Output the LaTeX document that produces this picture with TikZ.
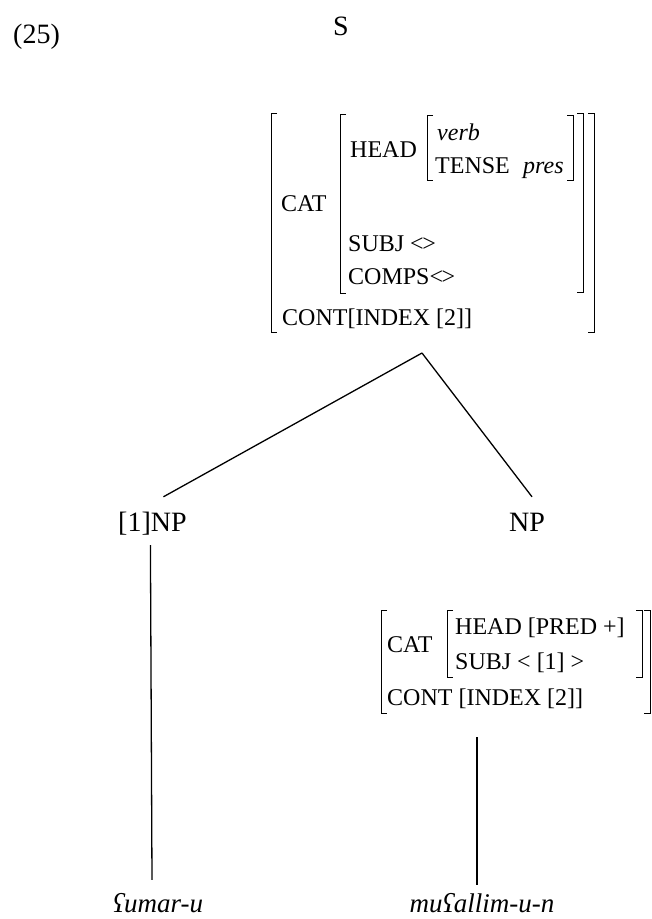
\documentclass[tikz,border=0pt]{standalone}
\usepackage{fontspec}
\setmainfont{Liberation Serif}
% left / right square bracket of an attribute-value matrix: x, top, bottom
\newcommand\avmLeft[3]{\draw[brk] (#1+6,#2) -- (#1,#2) -- (#1,#3) -- (#1+6,#3);}
\newcommand\avmRight[3]{\draw[brk] (#1-6,#2) -- (#1,#2) -- (#1,#3) -- (#1-6,#3);}
\newcommand\emptylist{<\kern-1.5pt>}
\begin{document}
\begin{tikzpicture}[x=1pt,y=-1pt,
  lbl/.style={inner sep=0pt, anchor=base, text height=20pt, text depth=6pt,
              font=\fontsize{28}{30}\selectfont},
  avm/.style={inner sep=0pt, anchor=base west, font=\fontsize{24}{26}\selectfont},
  word/.style={inner sep=0pt, anchor=base, text height=20pt, text depth=6pt,
               font=\fontsize{27}{30}\selectfont\itshape},
  branch/.style={line width=1.3pt},
  brk/.style={line width=0.9pt},
]
\useasboundingbox (0,0) rectangle (652,919);

% example number and root
\node[lbl, anchor=base west] (num) at (13,43) {(25)};
\node[lbl] (s) at (341,35) {S};

% feature structure of S
\avmLeft{271}{113}{332}
\avmLeft{340}{114}{293}
\avmLeft{427}{115}{180}
\avmRight{573}{115}{180}
\avmRight{583}{113}{292}
\avmRight{594}{113}{332}
\node[avm] (verb) at (437,140) {\itshape verb};
\node[avm] (head1) at (350,157) {HEAD};
\node[avm] (tense) at (435,173) {TENSE};
\node[avm] (pres) at (523,173) {\itshape pres};
\node[avm] (cat1) at (281,211) {CAT};
\node[avm] (subj1) at (348,251) {SUBJ \emptylist};
\node[avm] (comps1) at (348,284) {COMPS\emptylist};
\node[avm] (cont1) at (282,325) {CONT[INDEX [2]]};
\coordinate (sfoot) at (422,353);

% daughters
\node[lbl, anchor=base west] (np1) at (118,531) {[1]NP};
\node[lbl] (np2) at (527,531) {NP};

% feature structure of the predicative NP
\avmLeft{381}{610}{713}
\avmLeft{447}{610}{677}
\avmRight{642}{610}{677}
\avmRight{650}{610}{713}
\node[avm] (cat2) at (387,652) {CAT};
\node[avm] (head2) at (455,634) {HEAD [PRED +]};
\node[avm] (subj2) at (455,669) {SUBJ < [1] >};
\node[avm] (cont2) at (387,705) {CONT [INDEX [2]]};
\coordinate (npfoot) at (477,737);

% words
\node[word] (w1) at (158,912) {ʕumar-u};
\node[word] (w2) at (482,912) {muʕallim-u-n};

% branches
\draw[branch] (sfoot) -- ([xshift=11pt,yshift=14pt]np1.north);
\draw[branch] (sfoot) -- ([xshift=5pt,yshift=14pt]np2.north);
\draw[branch] ([xshift=-2pt,yshift=-8pt]np1.south) -- ([xshift=-6pt,yshift=12pt]w1.north);
\draw[branch] (npfoot) -- ([xshift=-5pt,yshift=7pt]w2.north);
\end{tikzpicture}
\end{document}
